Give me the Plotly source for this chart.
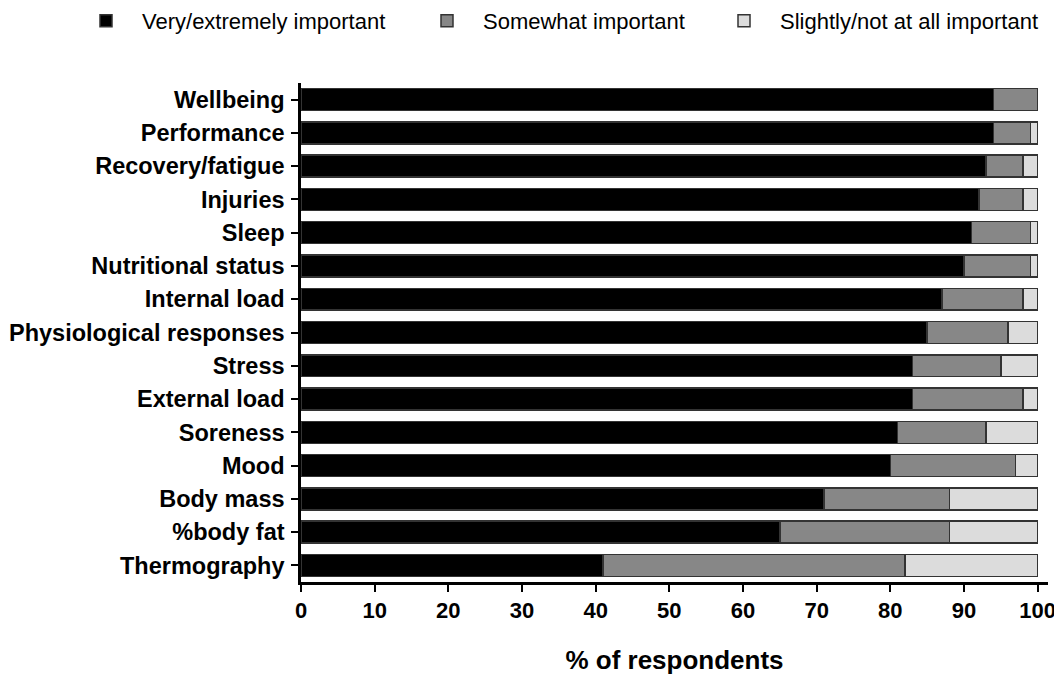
import plotly.graph_objects as go

categories = ["Wellbeing", "Performance", "Recovery/fatigue", "Injuries", "Sleep",
              "Nutritional status", "Internal load", "Physiological responses", "Stress",
              "External load", "Soreness", "Mood", "Body mass", "%body fat", "Thermography"]
very_important = [94, 94, 93, 92, 91, 90, 87, 85, 83, 83, 81, 80, 71, 65, 41]
somewhat_important = [6, 5, 5, 6, 8, 9, 11, 11, 12, 15, 12, 17, 17, 23, 41]
slightly_not = [0, 1, 2, 2, 1, 1, 2, 4, 5, 2, 7, 3, 12, 12, 18]
x_ticks = [0, 10, 20, 30, 40, 50, 60, 70, 80, 90, 100]

series = [
    ("Very/extremely important", very_important, "#000000", "legend"),
    ("Somewhat important", somewhat_important, "#878787", "legend2"),
    ("Slightly/not at all important", slightly_not, "#dcdcdc", "legend3"),
]

W, H = 1054, 667

fig = go.Figure()
for name, vals, col, leg in series:
    fig.add_trace(go.Bar(
        y=categories, x=vals, name=name, orientation="h",
        marker=dict(color=col, line=dict(color="#333333", width=1.5)),
        width=0.66, legend=leg, showlegend=True,
    ))

def legend_at(xpix):
    return dict(orientation="h", xref="container", yref="container",
                x=xpix / W, xanchor="left", y=1 - 13 / H, yanchor="middle",
                font=dict(size=22), itemwidth=62, bgcolor="rgba(0,0,0,0)")

fig.update_layout(
    barmode="stack",
    showlegend=True,
    width=W, height=H,
    margin=dict(l=293, r=14, t=75, b=93, autoexpand=False),
    paper_bgcolor="white", plot_bgcolor="white",
    font=dict(family="Liberation Sans, Arial, sans-serif", color="black"),
    legend=legend_at(62),
    legend2=legend_at(403),
    legend3=legend_at(700),
    xaxis=dict(range=[0, 101.4], tickvals=x_ticks, ticktext=[str(t) for t in x_ticks],
               showgrid=False, zeroline=False, showline=True, linecolor="black", linewidth=2.5,
               ticks="outside", ticklen=7, tickwidth=2, tickcolor="black", automargin=False,
               tickfont=dict(size=22, weight="bold"),
               title=dict(text="<b>% of respondents</b>", font=dict(size=26), standoff=29)),
    yaxis=dict(categoryorder="array", categoryarray=categories[::-1], range=[-0.5, 14.5],
               showgrid=False, zeroline=False, showline=True, linecolor="black", linewidth=2.5,
               ticks="outside", ticklen=7, tickwidth=2, tickcolor="black", automargin=False,
               tickfont=dict(size=23.5, weight="bold"), ticklabelstandoff=2),
)

fig.write_html("out.html")
